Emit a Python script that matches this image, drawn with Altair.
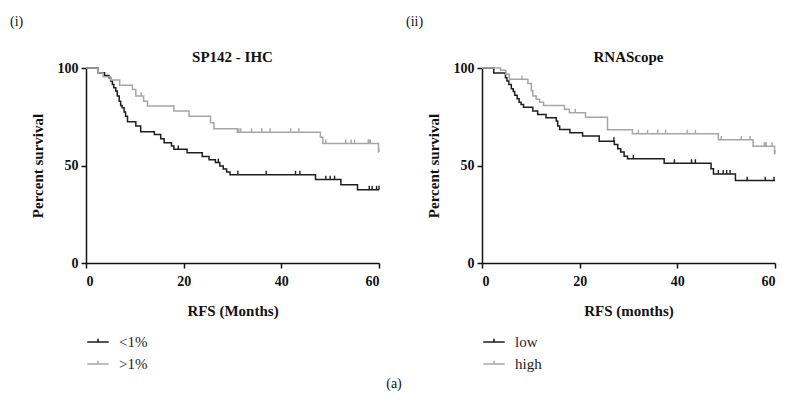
import altair as alt
import pandas as pd

FONT = "Liberation Serif"
BLACK = "#1e1e1e"
GRAY = "#a6a6a6"

# ---------- Panel (i): SP142 - IHC ----------
ihc_groups = ["<1%", ">1%"]
ihc_low_t = [0, 2.5, 3.8, 4.7, 5.05, 5.4, 5.7, 6.1, 6.4, 6.8, 7.1, 7.4, 7.8, 8.1, 8.5, 10.2, 11.2,
             14.0, 15.3, 16.0, 17.5, 18.0, 20.7, 23.8, 25.2, 26.5, 27.4, 28.1, 28.8, 29.5, 47.0,
             52.2, 55.6, 60]
ihc_low_s = [100, 97.6, 96.2, 95.0, 93.3, 91.6, 89.9, 88.2, 85.6, 83.0, 80.8, 79.6, 77.4, 75.3, 72.5,
             70.2, 67.3, 65.9, 63.7, 61.7, 60.0, 58.3, 56.5, 54.6, 53.0, 51.6, 49.8, 48.2, 46.7, 45.3,
             42.8, 40.1, 37.6, 37.6]
ihc_low_cens_t = [18.9, 27.1, 31.1, 36.9, 42.9, 43.8, 49.1, 50.0, 50.9, 58.0, 58.6, 59.5, 60.0]
ihc_low_cens_s = [58.3, 51.6, 45.3, 45.3, 45.3, 45.3, 42.8, 42.8, 42.8, 37.6, 37.6, 37.6, 37.6]

ihc_high_t = [0, 2.5, 3.5, 5.0, 6.9, 9.5, 10.2, 11.8, 12.6, 18.0, 21.1, 25.5, 26.2, 31.0, 48.0,
              48.5, 59.9, 60]
ihc_high_s = [100, 97.5, 95.5, 93.8, 91.1, 89.0, 85.6, 83.0, 80.5, 77.9, 75.3, 71.9, 68.8, 67.1,
              64.5, 61.3, 56.9, 56.9]
ihc_high_cens_t = [11.3, 31.3, 31.7, 33.9, 36.0, 37.7, 41.9, 43.6, 49.1, 53.2, 54.3, 55.0, 57.8,
                   58.0, 58.2, 60.0]
ihc_high_cens_s = [85.6, 67.1, 67.1, 67.1, 67.1, 67.1, 67.1, 67.1, 61.3, 61.3, 61.3, 61.3, 61.3,
                   61.3, 61.3, 56.9]

# ---------- Panel (ii): RNAScope ----------
rna_groups = ["low", "high"]
rna_low_t = [0, 2.4, 4.8, 5.1, 5.5, 6.0, 6.4, 6.7, 7.2, 7.6, 8.0, 8.5, 10.4, 11.4, 13.1, 15.2, 15.5,
             15.9, 18.0, 20.6, 24.0, 27.1, 27.8, 28.4, 29.1, 29.8, 37.3, 46.9, 47.4, 51.9, 60]
rna_low_s = [100, 97.5, 95.0, 93.3, 91.6, 89.4, 88.0, 86.0, 84.2, 82.5, 81.3, 79.9, 77.9, 76.2, 74.5,
             72.8, 70.2, 68.5, 66.8, 65.1, 62.5, 60.8, 58.6, 56.9, 54.8, 53.4, 51.2, 48.3, 45.7,
             42.3, 42.3]
rna_low_cens_t = [27.0, 31.0, 39.4, 42.9, 43.7, 48.4, 49.4, 50.1, 50.8, 54.3, 58.0, 59.8]
rna_low_cens_s = [62.5, 53.4, 51.2, 51.2, 51.2, 45.7, 45.7, 45.7, 45.7, 42.3, 42.3, 42.3]

rna_high_t = [0, 3.8, 4.9, 5.6, 9.4, 10.1, 10.4, 11.1, 11.8, 12.6, 16.9, 17.9, 21.2, 25.7, 30.8,
              48.4, 55.5, 59.9, 60]
rna_high_s = [100, 98.8, 96.8, 94.2, 92.0, 88.5, 85.6, 84.0, 82.5, 80.8, 78.8, 77.1, 74.8, 68.3,
              66.3, 63.2, 59.9, 56.0, 56.0]
rna_high_cens_t = [8.2, 19.1, 32.0, 33.9, 36.0, 37.6, 42.0, 43.7, 49.0, 53.1, 54.9, 57.8, 58.0,
                   58.2, 59.4, 60.0]
rna_high_cens_s = [94.2, 77.1, 66.3, 66.3, 66.3, 66.3, 66.3, 66.3, 63.2, 63.2, 63.2, 59.9, 59.9,
                   59.9, 59.9, 56.0]


def frame(t, s, g):
    return pd.DataFrame({"t": t, "s": s, "group": g})


def panel(groups, curves, cens, title, xtitle):
    curve_df = pd.concat([frame(t, s, g) for (t, s), g in zip(curves, groups)], ignore_index=True)
    cens_df = pd.concat([frame(t, s, g) for (t, s), g in zip(cens, groups)], ignore_index=True)

    legend = alt.Legend(
        title=None,
        orient="none",
        legendX=0,
        legendY=262,
        symbolType="M-1,0H1M0,0V-0.3",
        symbolSize=460,
        symbolStrokeWidth=1.6,
        labelFont=FONT,
        labelFontSize=15,
        labelColor="#222222",
        labelOffset=9,
        rowPadding=2,
    )
    color = alt.Color("group:N", sort=groups,
                      scale=alt.Scale(domain=groups, range=[BLACK, GRAY]),
                      legend=legend)
    x = alt.X("t:Q", scale=alt.Scale(domain=[0, 60], nice=False),
              axis=alt.Axis(values=[0, 20, 40, 60], title=xtitle, grid=False))
    y = alt.Y("s:Q", scale=alt.Scale(domain=[0, 100], nice=False),
              axis=alt.Axis(values=[0, 50, 100], title="Percent survival", grid=False))

    lines = alt.Chart(curve_df).mark_line(interpolate="step-after", strokeWidth=1.5).encode(
        x=x, y=y, color=color)
    ticks = alt.Chart(cens_df).mark_point(shape="M0,0V-1", size=60, filled=False,
                                          strokeWidth=1.4, opacity=1).encode(
        x=x, y=y, color=color)
    return alt.layer(lines, ticks).properties(
        width=293, height=195,
        title=alt.TitleParams(title, font=FONT, fontSize=15, fontWeight="bold",
                              color="#111111", offset=-4),
    )


p1 = panel(ihc_groups,
           [(ihc_low_t, ihc_low_s), (ihc_high_t, ihc_high_s)],
           [(ihc_low_cens_t, ihc_low_cens_s), (ihc_high_cens_t, ihc_high_cens_s)],
           "SP142 - IHC", "RFS (Months)")
p2 = panel(rna_groups,
           [(rna_low_t, rna_low_s), (rna_high_t, rna_high_s)],
           [(rna_low_cens_t, rna_low_cens_s), (rna_high_cens_t, rna_high_cens_s)],
           "RNAScope", "RFS (months)")

sub_title = dict(font=FONT, fontSize=14, fontWeight="normal", anchor="start", color="#111111",
                 offset=21)

chart = alt.hconcat(
    alt.vconcat(p1, title=alt.TitleParams("(i)", dx=-20, **sub_title)),
    alt.vconcat(p2, title=alt.TitleParams("(ii)", dx=-20, **sub_title)),
    spacing=24,
    title=alt.TitleParams("(a)", orient="bottom", anchor="middle", font=FONT, fontSize=14,
                          fontWeight="normal", color="#111111", offset=5),
).resolve_scale(color="independent").properties(
    padding={"left": 2, "top": 7, "right": 0, "bottom": 0}
).configure_view(stroke=None).configure_axis(
    labelFont=FONT, labelFontSize=14, labelFontWeight="bold", labelColor="#111111",
    titleFont=FONT, titleFontSize=15, titleFontWeight="bold", titleColor="#111111",
    domainColor="#111111", domainWidth=1.5, tickColor="#111111", tickWidth=1.5, tickSize=5,
    labelPadding=3,
).configure_axisY(titlePadding=12).configure_axisX(labelPadding=6, titlePadding=15)

chart.save("out.html", embed_options={"renderer": "svg", "actions": False})
